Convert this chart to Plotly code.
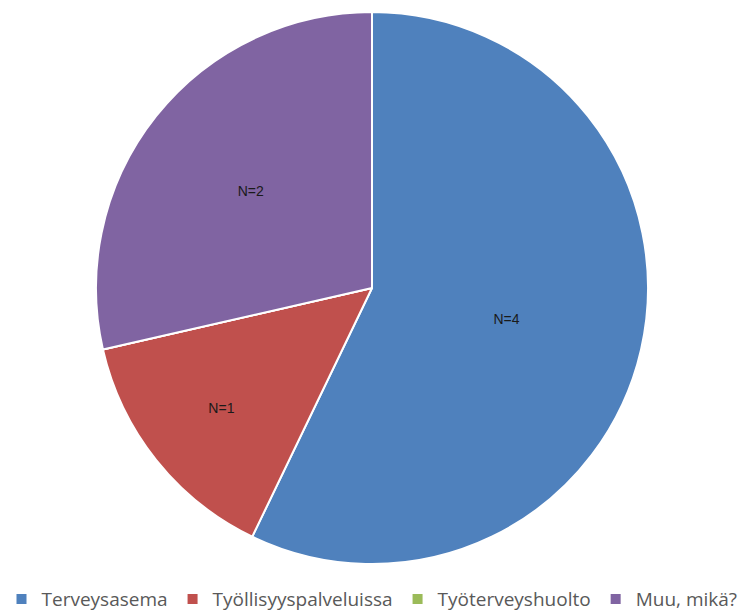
import plotly.graph_objects as go

labels = ["Terveysasema", "Työllisyyspalveluissa", "Työterveyshuolto", "Muu, mikä?"]
values = [4, 1, 0, 2]
colors = ["#4F81BD", "#C0504D", "#9BBB59", "#8064A2"]

fig = go.Figure(go.Pie(
    labels=labels,
    values=values,
    sort=False,
    direction="clockwise",
    rotation=0,
    domain=dict(x=[0, 1], y=[0.0799, 0.9804]),
    marker=dict(colors=colors, line=dict(color="white", width=2)),
    texttemplate="N=%{value}",
    textposition="inside",
    insidetextorientation="horizontal",
    textfont=dict(family="Liberation Sans, Arial", size=14, color="#1a1a1a"),
    hoverinfo="label+value",
))

fig.update_layout(
    width=744, height=613,
    margin=dict(l=0, r=0, t=0, b=0, autoexpand=False),
    paper_bgcolor="white",
    showlegend=True,
    legend=dict(
        orientation="h", x=0.5, xanchor="center", y=-0.0082, yanchor="bottom",
        font=dict(family="Open Sans, Liberation Sans", size=19, color="#595959"),
        itemwidth=30,
    ),
)

fig.write_html("out.html")
